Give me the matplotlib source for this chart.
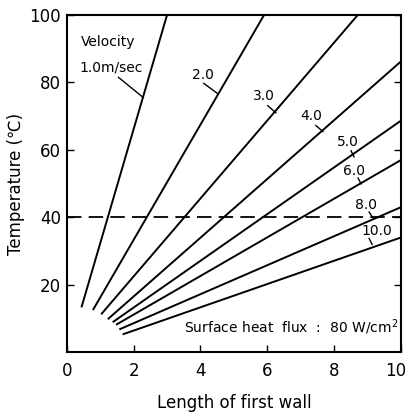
import numpy as np
import matplotlib.pyplot as plt
from matplotlib.transforms import ScaledTranslation

# velocity (m/sec) and the end points of each straight line
velocity = [1.0, 2.0, 3.0, 4.0, 5.0, 6.0, 8.0, 10.0]
x_start = [0.45, 0.8, 1.05, 1.25, 1.4, 1.5, 1.6, 1.7]
y_start = [13.5, 12.7, 11.4, 9.9, 9.0, 8.2, 6.8, 5.3]
x_end = [3.0, 5.9, 8.7, 10.0, 10.0, 10.0, 10.0, 10.0]
y_end = [100.0, 100.0, 100.0, 86.3, 68.7, 57.0, 43.0, 34.0]
limit_temp = 40.0

# label text position, leader line start, leader line end (data coords)
label_pos = [(1.33, 84.5), (4.06, 82.1), (5.9, 76.1), (7.3, 70.1),
             (8.41, 62.4), (8.59, 53.7), (8.95, 43.6), (9.28, 35.8)]
leader_a = [(1.55, 81.5), (4.1, 79.7), (6.01, 73.1), (7.45, 67.2),
            (8.5, 59.7), (8.71, 51.6), (9.04, 41.5), (9.04, 33.7)]
leader_b = [(2.29, 75.5), (4.51, 76.7), (6.25, 71.0), (7.66, 65.4),
            (8.59, 57.9), (8.8, 49.9), (9.16, 39.7), (9.13, 31.9)]

fig = plt.figure(figsize=(4.09, 4.17), dpi=100)
ax = fig.add_axes([0.163, 0.156, 0.818, 0.808])

for i, v in enumerate(velocity):
    ax.plot([x_start[i], x_end[i]], [y_start[i], y_end[i]], color='black', lw=1.4)
    txt = '1.0m/sec' if i == 0 else f'{v:.1f}'
    ax.text(label_pos[i][0], label_pos[i][1], txt, fontsize=10, ha='center', va='center')
    ax.plot([leader_a[i][0], leader_b[i][0]], [leader_a[i][1], leader_b[i][1]],
            color='black', lw=1.0)

ax.text(0.42, 92, 'Velocity', fontsize=10, ha='left', va='center')

ax.axhline(limit_temp, color='black', lw=1.3, linestyle=(0, (8, 4)))

ax.text(3.5, 7.2, 'Surface heat  flux  :  80 W/cm$^2$', fontsize=10, ha='left', va='center')

ax.set_xlim(0, 10)
ax.set_ylim(0, 100)
ax.set_xticks([0, 2, 4, 6, 8, 10])
ax.set_yticks([20, 40, 60, 80, 100])
ax.tick_params(direction='in', length=5, width=1, labelsize=12,
               top=False, right=True)
ax.tick_params(axis='x', pad=7)
ax.tick_params(axis='y', pad=4)
ax.set_xlabel('Length of first wall', fontsize=12, labelpad=10)
ax.set_ylabel('Temperature (℃)', fontsize=12, labelpad=3)
for s in ax.spines.values():
    s.set_linewidth(1.5)

# keep the last x tick label inside the figure
fig.canvas.draw()
last = ax.get_xticklabels()[-1]
last.set_transform(last.get_transform() + ScaledTranslation(-6 / 100, 0, fig.dpi_scale_trans))

fig.savefig('out.png', dpi=100)
